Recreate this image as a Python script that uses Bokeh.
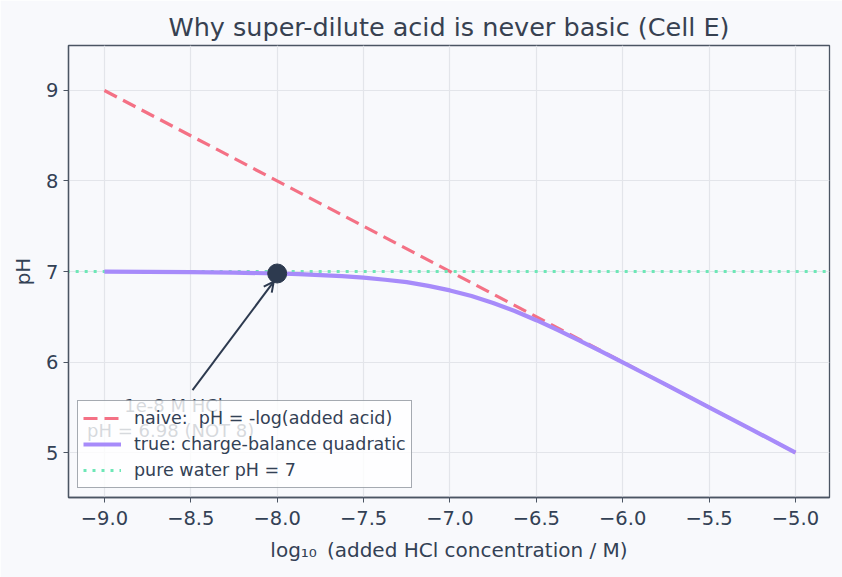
from bokeh.plotting import figure
from bokeh.models import Range1d, FixedTicker, Legend, LegendItem, Arrow, OpenHead
from bokeh.core.properties import value
from bokeh.embed import file_html
from bokeh.resources import INLINE

# ---- data ----
log_c = [-9.0, -8.75, -8.5, -8.25, -8.0, -7.875, -7.75, -7.625, -7.5, -7.375, -7.25, -7.125,
         -7.0, -6.875, -6.75, -6.625, -6.5, -6.375, -6.25, -6.125, -6.0, -5.875, -5.75,
         -5.5, -5.25, -5.0]
ph_true = [6.998, 6.996, 6.993, 6.988, 6.978, 6.971, 6.961, 6.949, 6.932, 6.909, 6.883, 6.841,
           6.791, 6.729, 6.652, 6.563, 6.462, 6.352, 6.237, 6.118, 5.996, 5.873, 5.749,
           5.499, 5.250, 5.000]
naive_x = [-9.0, -5.0]
naive_ph = [9.0, 5.0]
water_ph = 7.0
point_x = [-8.0]
point_ph = [6.978]
annot_text = ["1e-8 M HCl\npH = 6.98  (NOT 8)"]
annot_x = [-8.6]
annot_y = [5.635]
arrow_start = (-8.49, 5.69)

x_ticks = [-9.0, -8.5, -8.0, -7.5, -7.0, -6.5, -6.0, -5.5, -5.0]
y_ticks = [5, 6, 7, 8, 9]

BG = "#f8f9fc"
TXT = "#334155"
EDGE = "#4b5563"
FONT = "DejaVu Sans"

p = figure(width=842, height=577, output_backend="svg", toolbar_location=None,
           x_range=Range1d(-9.208, -4.803), y_range=Range1d(4.503, 9.497),
           min_border_left=68, min_border_right=13, min_border_top=45, min_border_bottom=80,
           background_fill_color=BG, border_fill_color=BG,
           title="Why super-dilute acid is never basic (Cell E)")

p.title.text_font = FONT
p.title.text_font_size = "25.5px"
p.title.text_font_style = "normal"
p.title.text_color = "#374151"
p.title.align = "center"
p.title.standoff = 7

p.outline_line_color = EDGE
p.outline_line_width = 1.3

for ax in (p.xaxis[0], p.yaxis[0]):
    ax.axis_line_color = EDGE
    ax.axis_line_width = 1.3
    ax.major_tick_line_color = EDGE
    ax.major_tick_out = 5
    ax.major_tick_in = 0
    ax.minor_tick_line_color = None
    ax.major_label_text_font = FONT
    ax.major_label_text_font_size = "19.5px"
    ax.major_label_text_color = TXT
    ax.axis_label_text_font = FONT
    ax.axis_label_text_font_size = "20px"
    ax.axis_label_text_font_style = "normal"
    ax.axis_label_text_color = TXT

p.xaxis[0].ticker = FixedTicker(ticks=x_ticks)
p.xaxis[0].major_label_overrides = {t: f"{t:.1f}".replace("-", "\u2212") for t in x_ticks}
p.xaxis[0].major_label_standoff = 8
p.xaxis[0].axis_label = "log\u2081\u2080\u2002(added HCl concentration / M)"
p.xaxis[0].axis_label_standoff = 10
p.yaxis[0].ticker = FixedTicker(ticks=y_ticks)
p.yaxis[0].axis_label = "pH"
p.yaxis[0].axis_label_standoff = 8

p.xgrid.grid_line_color = "#e3e5ea"
p.ygrid.grid_line_color = "#e3e5ea"
p.xgrid.grid_line_width = 1.2
p.ygrid.grid_line_width = 1.2

# annotation text (under legend)
p.text(x=annot_x, y=annot_y, text=annot_text, text_align="center", text_baseline="top",
       text_font=value(FONT), text_font_size="18px", text_color=TXT, text_line_height=1.2)

r_naive = p.line(naive_x, naive_ph, line_color="#f47185", line_width=3.2, line_dash="14 7")
r_water = p.line([-10, -4], [water_ph, water_ph], line_color="#6ee7b7", line_width=3.2,
                 line_dash="3 6")
r_true = p.line(log_c, ph_true, line_color="#a78bfa", line_width=4.2)
p.scatter(point_x, point_ph, size=19, fill_color="#2d3a4f", line_color="#2d3a4f")

p.add_layout(Arrow(end=OpenHead(size=10, line_color="#2d3a4f", line_width=2),
                   x_start=arrow_start[0], y_start=arrow_start[1],
                   x_end=point_x[0] - 0.02, y_end=point_ph[0] - 0.09,
                   line_color="#2d3a4f", line_width=2))

legend = Legend(items=[
    LegendItem(label="naive:  pH = -log(added acid)", renderers=[r_naive]),
    LegendItem(label="true: charge-balance quadratic", renderers=[r_true]),
    LegendItem(label="pure water pH = 7", renderers=[r_water]),
], location="bottom_left")
legend.margin = 9
legend.padding = 5
legend.spacing = 2
legend.glyph_width = 38
legend.glyph_height = 24
legend.label_height = 24
legend.label_standoff = 13
legend.label_text_font = FONT
legend.label_text_font_size = "17.5px"
legend.label_text_color = TXT
legend.background_fill_color = "white"
legend.background_fill_alpha = 0.8
legend.border_line_color = EDGE
legend.border_line_width = 1.2
p.add_layout(legend)

open("out.html", "w").write(file_html(p, INLINE))
